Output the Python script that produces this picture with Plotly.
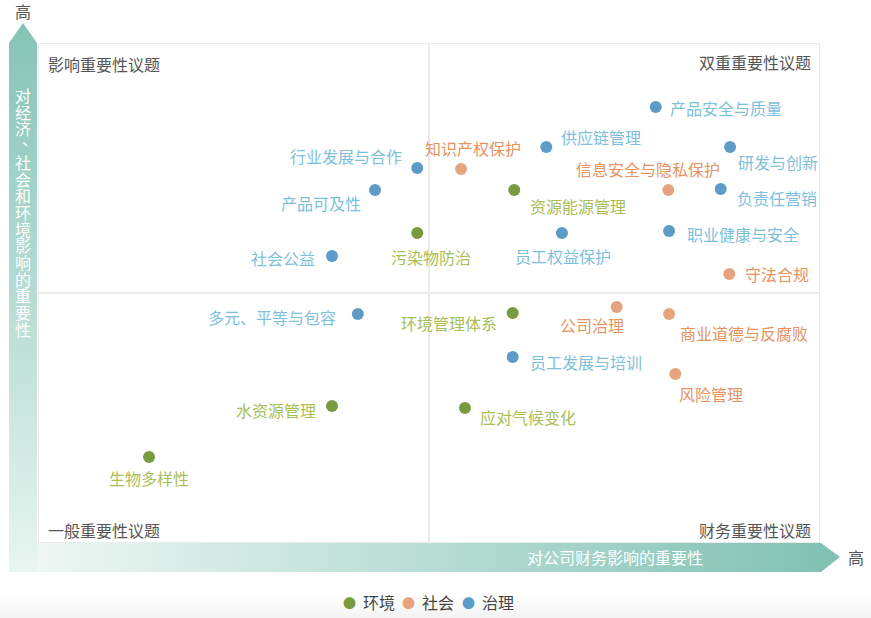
import plotly.graph_objects as go

# 1. 数据 (财务重要性 x, 影响重要性 y, 0-10)
env_names = ["资源能源管理", "污染物防治", "环境管理体系", "水资源管理", "应对气候变化", "生物多样性"]
env_x = [6.09, 4.85, 6.07, 3.76, 5.46, 1.42]
env_y = [7.06, 6.20, 4.60, 2.74, 2.70, 1.72]

soc_names = ["知识产权保护", "信息安全与隐私保护", "守法合规", "公司治理", "商业道德与反腐败", "风险管理"]
soc_x = [5.41, 8.06, 8.84, 7.40, 8.07, 8.15]
soc_y = [7.48, 7.06, 5.38, 4.72, 4.58, 3.38]

gov_names = ["产品安全与质量", "供应链管理", "研发与创新", "行业发展与合作", "产品可及性", "负责任营销",
             "员工权益保护", "职业健康与安全", "社会公益", "多元、平等与包容", "员工发展与培训"]
gov_x = [7.90, 6.50, 8.85, 4.85, 4.31, 8.73, 6.70, 8.07, 3.76, 4.09, 6.07]
gov_y = [8.72, 7.92, 7.92, 7.50, 7.06, 7.08, 6.20, 6.24, 5.74, 4.58, 3.72]

# 标签位置 (anchor, 右移px, 下移px)
env_label_pos = [("left", 14, 16), ("center", 14, 24), ("right", -14, 10),
                 ("right", -14, 4), ("left", 13, 9), ("center", 0, 21)]
soc_label_pos = [("center", 12, -21), ("right", 54, -21), ("left", 14, 0),
                 ("right", 9, 18), ("left", 9, 19), ("left", 2, 20)]
gov_label_pos = [("left", 12, 1), ("left", 13, -10), ("left", 6, 15), ("right", -13, -12),
                 ("right", -12, 13), ("left", 14, 9), ("center", 1, 23), ("left", 16, 3),
                 ("right", -15, 2), ("right", -20, 3), ("left", 15, 5)]

W, H = 871, 618
FONT = "Noto Sans CJK SC"

groups = [
    ("环境", env_names, env_x, env_y, env_label_pos, "#789b3f", "#a9be56"),
    ("社会", soc_names, soc_x, soc_y, soc_label_pos, "#e5a47d", "#e6935f"),
    ("治理", gov_names, gov_x, gov_y, gov_label_pos, "#5e9cc8", "#7ec0dc"),
]
legend_px = [349, 408, 468]  # 图例圆点位置

fig = go.Figure()

# 2. 坐标轴箭头 (整页像素坐标, x2/y2)
fig.add_trace(go.Scatter(
    x=[9, 9, 23, 37, 37, 9], y=[572, 43, 23, 43, 572, 572],
    mode="lines", line=dict(width=0), fill="toself",
    fillgradient=dict(type="vertical", start=572, stop=23,
                      colorscale=[[0, "#e9f5f1"], [1, "#84c4b5"]]),
    xaxis="x2", yaxis="y2", hoverinfo="skip", showlegend=False,
))
fig.add_trace(go.Scatter(
    x=[37, 821, 840, 821, 37, 37], y=[543, 543, 557, 572, 572, 543],
    mode="lines", line=dict(width=0), fill="toself",
    fillgradient=dict(type="horizontal", start=37, stop=840,
                      colorscale=[[0, "#eef7f4"], [1, "#7fc1b2"]]),
    xaxis="x2", yaxis="y2", hoverinfo="skip", showlegend=False,
))
fig.add_trace(go.Scatter(
    x=[0, W, W, 0, 0], y=[596, 596, H, H, 596],
    mode="lines", line=dict(width=0), fill="toself",
    fillgradient=dict(type="vertical", start=596, stop=H,
                      colorscale=[[0, "#ffffff"], [1, "#f3f3f3"]]),
    xaxis="x2", yaxis="y2", hoverinfo="skip", showlegend=False,
))


def px_note(text, px, py, anchor="center", color="#555555", size=16, dx=0, dy=0):
    return dict(x=px / W, y=1 - py / H, xref="paper", yref="paper", text=text,
                showarrow=False, xanchor=anchor, yanchor="middle", xshift=dx, yshift=dy,
                font=dict(family=FONT, size=size, color=color))


# 3. 散点 + 标签 + 图例
annotations = []
for (cat, names, xs, ys, pos, mcolor, tcolor), lx in zip(groups, legend_px):
    fig.add_trace(go.Scatter(
        x=xs, y=ys, mode="markers", name=cat, text=names,
        marker=dict(size=12, color=mcolor), showlegend=False,
        hovertemplate="%{text}<extra>" + cat + "</extra>",
    ))
    for n, x, y, (anchor, dx, dy) in zip(names, xs, ys, pos):
        annotations.append(dict(
            x=x, y=y, xref="x", yref="y", text=n, showarrow=False,
            xanchor=anchor, yanchor="middle", xshift=dx, yshift=-dy,
            font=dict(family=FONT, size=16, color=tcolor),
        ))
    annotations.append(px_note("●", lx, 602, color=mcolor, size=13))
    annotations.append(px_note(cat, lx + 12, 602, anchor="left", color="#444444"))

# 4. 象限标题 / 轴标题
annotations += [
    px_note("影响重要性议题", 46, 64, "left"),
    px_note("双重重要性议题", 813, 62, "right"),
    px_note("一般重要性议题", 46, 530, "left"),
    px_note("财务重要性议题", 813, 530, "right"),
    px_note("高", 23, 11),
    px_note("高", 856, 557),
    px_note("对公司财务影响的重要性", 615, 557, color="white"),
]
for i, ch in enumerate("对经济、社会和环境影响的重要性"):
    if ch == "、":
        annotations.append(px_note(ch, 23, 95 + i * 16.7, color="white", dx=7, dy=7))
    else:
        annotations.append(px_note(ch, 23, 95 + i * 16.7, color="white"))

# 5. 边框与分隔线
line_style = dict(color="#ebebeb", width=2)
shapes = [
    dict(type="rect", xref="x", yref="y", x0=0, x1=10, y0=0, y1=10, line=line_style, layer="below"),
    dict(type="line", xref="x", yref="y", x0=5, x1=5, y0=0, y1=10, line=line_style, layer="below"),
    dict(type="line", xref="x", yref="y", x0=0, x1=10, y0=5, y1=5, line=line_style, layer="below"),
]

fig.update_layout(
    width=W, height=H,
    margin=dict(l=0, r=0, t=0, b=0),
    paper_bgcolor="white", plot_bgcolor="rgba(0,0,0,0)",
    font=dict(family=FONT, size=16, color="#444444"),
    xaxis=dict(domain=[38 / W, 820 / W], range=[0, 10], visible=False),
    yaxis=dict(domain=[(H - 543) / H, (H - 43) / H], range=[0, 10], visible=False),
    xaxis2=dict(domain=[0, 1], range=[0, W], visible=False, anchor="y2"),
    yaxis2=dict(domain=[0, 1], range=[H, 0], visible=False, anchor="x2"),
    showlegend=False,
    annotations=annotations,
    shapes=shapes,
)

fig.write_html("out.html", config={"displayModeBar": False},
               post_script="document.body.style.margin='0';")
